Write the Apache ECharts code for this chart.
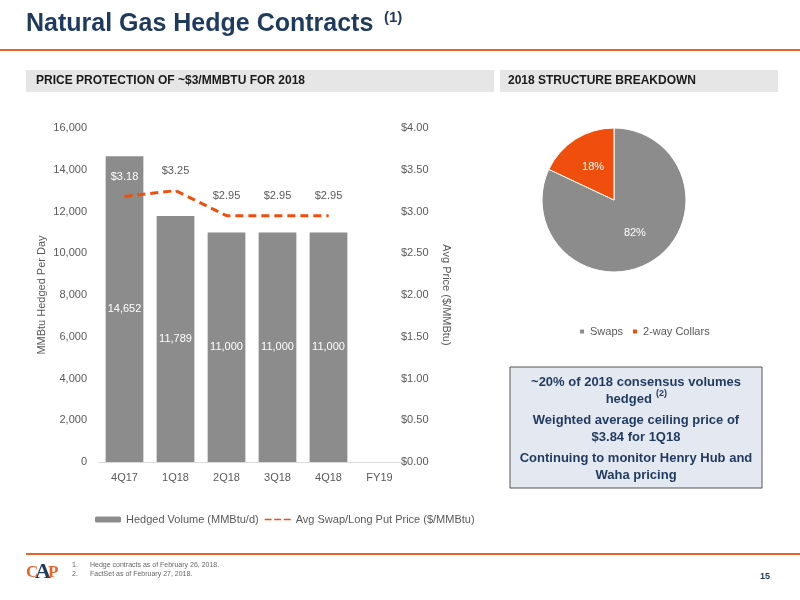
<!DOCTYPE html>
<html>
<head>
<meta charset="utf-8">
<script src="https://cdn.jsdelivr.net/npm/echarts@6/dist/echarts.min.js"></script>
<style>body{margin:0}#main{width:800px;height:600px}</style>
</head>
<body>
<div id="main"></div>
<script>
// chart data
var quarters = ['4Q17', '1Q18', '2Q18', '3Q18', '4Q18', 'FY19'];
var hedgedVolume = [14652, 11789, 11000, 11000, 11000, null];
var avgPrice = [3.18, 3.25, 2.95, 2.95, 2.95, null];
var structureNames = ['Swaps', '2-way Collars'];
var structureShares = [82, 18];

var GREY = '#8c8c8c', ORANGE = '#f04e0c', NAVY = '#1f3a5f';
var chart = echarts.init(document.getElementById('main'));

var option = {
  backgroundColor: '#fff',
  textStyle: { fontFamily: 'Liberation Sans' },
  grid: { left: 99, right: 395, top: 128, bottom: 138 },
  legend: [{
    data: [{ name: 'Hedged Volume (MMBtu/d)' }, { name: 'Avg Swap/Long Put Price ($/MMBtu)', icon: 'path://M0,0H8V2H0Z M11,0H19V2H11Z M22,0H30V2H22Z' }],
    left: 90, top: 509, itemGap: 6, itemWidth: 26, itemHeight: 6,
    textStyle: { color: '#595959', fontSize: 11 }
  }, {
    data: structureNames, left: 573, top: 321, itemGap: 8, itemWidth: 6, itemHeight: 6,
    textStyle: { color: '#595959', fontSize: 11 }
  }],
  xAxis: {
    type: 'category', data: quarters,
    axisLine: { lineStyle: { color: '#d9d9d9' } }, axisTick: { show: false },
    axisLabel: { color: '#595959', fontSize: 11, margin: 10 }
  },
  yAxis: [{
    type: 'value', min: 0, max: 16000, interval: 2000,
    name: 'MMBtu Hedged Per Day', nameLocation: 'middle', nameGap: 52,
    nameTextStyle: { color: '#595959', fontSize: 11 },
    splitLine: { show: false },
    axisLabel: { color: '#595959', fontSize: 11, margin: 12,
      formatter: function (v) { return v.toLocaleString('en-US'); } }
  }, {
    type: 'value', min: 0, max: 4, interval: 0.5,
    name: 'Avg Price ($/MMBtu)', nameLocation: 'middle', nameGap: 36, nameRotate: -90,
    nameTextStyle: { color: '#595959', fontSize: 11 },
    splitLine: { show: false },
    axisLabel: { color: '#595959', fontSize: 11, margin: -4,
      formatter: function (v) { return '$' + v.toFixed(2); } }
  }],
  series: [{
    name: 'Hedged Volume (MMBtu/d)', type: 'bar', data: hedgedVolume,
    barWidth: '74%', itemStyle: { color: GREY },
    label: { show: true, position: 'inside', color: '#fff', fontSize: 11,
      formatter: function (p) { return p.value.toLocaleString('en-US'); } }
  }, {
    name: 'Avg Swap/Long Put Price ($/MMBtu)', type: 'line', yAxisIndex: 1,
    data: avgPrice.map(function (v, i) {
      return i === 0 ? { value: v, label: { color: '#fff' } } : v;
    }),
    symbol: 'circle', symbolSize: 1, showSymbol: true,
    lineStyle: { color: ORANGE, width: 3, type: [8, 5] }, itemStyle: { color: ORANGE },
    label: { show: true, position: 'top', distance: 14, color: '#595959', fontSize: 11,
      formatter: function (p) { return '$' + p.value.toFixed(2); } }
  }, {
    type: 'pie', center: [614, 200], radius: 72, startAngle: 90,
    data: structureNames.map(function (n, i) { return { name: n, value: structureShares[i] }; }),
    color: [GREY, ORANGE],
    itemStyle: { borderColor: '#fff', borderWidth: 1 },
    label: { position: 'inside', color: '#fff', fontSize: 11, formatter: '{c}%' },
    labelLine: { show: false }
  }],
  graphic: [
    { type: 'text', left: 26, top: 12, style: { text: 'Natural Gas Hedge Contracts', fill: NAVY, font: 'bold 25px Liberation Sans' } },
    { type: 'text', left: 384, top: 10, style: { text: '(1)', fill: NAVY, font: 'bold 15px Liberation Sans' } },
    { type: 'rect', shape: { x: 0, y: 49, width: 800, height: 2 }, style: { fill: '#e8622a' } },
    { type: 'rect', shape: { x: 26, y: 70, width: 468, height: 22 }, style: { fill: '#e6e6e6' } },
    { type: 'text', left: 36, top: 75, style: { text: 'PRICE PROTECTION OF ~$3/MMBTU FOR 2018', fill: '#1a1a1a', font: 'bold 12px Liberation Sans' } },
    { type: 'rect', shape: { x: 500, y: 70, width: 278, height: 22 }, style: { fill: '#e6e6e6' } },
    { type: 'text', left: 508, top: 75, style: { text: '2018 STRUCTURE BREAKDOWN', fill: '#1a1a1a', font: 'bold 12px Liberation Sans' } },
    { type: 'rect', shape: { x: 510, y: 367, width: 252, height: 121 }, style: { fill: '#e4e8f0', stroke: '#555', lineWidth: 1 } },
    { type: 'text', x: 636, y: 374, style: { text: '~20% of 2018 consensus volumes\nhedged    ', align: 'center', fill: NAVY, font: 'bold 13px Liberation Sans', lineHeight: 17 } },
    { type: 'text', x: 656, y: 389, style: { text: '(2)', fill: NAVY, font: 'bold 9px Liberation Sans' } },
    { type: 'text', x: 636, y: 412, style: { text: 'Weighted average ceiling price of\n$3.84 for 1Q18', align: 'center', fill: NAVY, font: 'bold 13px Liberation Sans', lineHeight: 17 } },
    { type: 'text', x: 636, y: 450, style: { text: 'Continuing to monitor Henry Hub and\nWaha pricing', align: 'center', fill: NAVY, font: 'bold 13px Liberation Sans', lineHeight: 17 } },
    { type: 'rect', shape: { x: 26, y: 553, width: 774, height: 2 }, style: { fill: '#e8622a' } },
    { type: 'text', left: 72, top: 561, style: { text: '1.\n2.', fill: '#666', font: '7px Liberation Sans', lineHeight: 9 } },
    { type: 'text', left: 90, top: 561, style: { text: 'Hedge contracts as of February 26, 2018.\nFactSet as of February 27, 2018.', fill: '#666', font: '7px Liberation Sans', lineHeight: 9 } },
    { type: 'text', left: 26, top: 564, style: { text: 'C', fill: '#e8622a', font: 'bold 17px Liberation Sans Narrow' } },
    { type: 'text', left: 35, top: 561, style: { text: 'A', fill: NAVY, font: 'bold 22px Liberation Sans Narrow' } },
    { type: 'text', left: 48, top: 564, style: { text: 'P', fill: '#e8622a', font: 'bold 17px Liberation Sans Narrow' } },
    { type: 'text', left: 760, top: 572, style: { text: '15', fill: NAVY, font: 'bold 9px Liberation Sans' } }
  ]
};
chart.setOption(option);
</script>
</body>
</html>
